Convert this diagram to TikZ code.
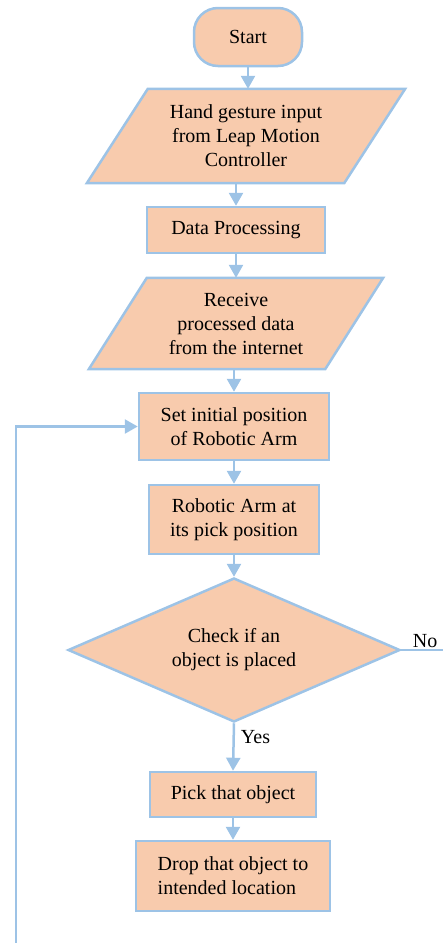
\documentclass[tikz,border=0pt]{standalone}
\usepackage{fontspec}
\setmainfont{Liberation Serif}
\usetikzlibrary{arrows.meta,shapes.geometric,backgrounds}
\definecolor{boxfill}{HTML}{F8CBAD}
\definecolor{edgeblue}{HTML}{9DC3E6}
\begin{document}
\begin{tikzpicture}[
  x=1pt, y=-1pt,
  font=\rmfamily\fontsize{20pt}{24pt}\selectfont,
  box/.style={rectangle, draw=edgeblue, fill=boxfill, line width=2.5pt,
              align=center, inner sep=0pt},
  term/.style={box, rounded corners=24pt},
  decision/.style={diamond, aspect=2.3, draw=edgeblue, fill=boxfill,
                   line width=2.5pt, align=center, inner sep=0pt},
  iobox/.style={rectangle, align=center, inner sep=0pt},
  ioframe/.style={draw=edgeblue, fill=boxfill, line width=2.5pt},
  flow/.style={draw=edgeblue, line width=2.5pt,
               -{Triangle[width=14pt,length=13pt]}},
  tag/.style={inner sep=3pt}
]
\useasboundingbox (0,0) rectangle (443,943);

% process blocks
\node[term, minimum width=108pt, minimum height=58pt] (start) at (248,37) {Start};
\node[iobox, minimum width=318pt, minimum height=94pt] (in1) at (246,136)
  {Hand gesture input\\from Leap Motion\\Controller};
\node[box, minimum width=178pt, minimum height=46pt] (dp) at (236,230) {Data Processing};
\node[iobox, minimum width=294pt, minimum height=91pt] (in2) at (236,323.5)
  {Receive\\processed data\\from the internet};
\node[box, minimum width=190pt, minimum height=67pt] (init) at (234,426.5)
  {Set initial position\\of Robotic Arm};
\node[box, minimum width=170pt, minimum height=69pt] (arm) at (234,519.5)
  {Robotic Arm at\\its pick position};
\node[decision, minimum width=332pt, minimum height=144pt] (check) at (234,650)
  {Check if an\\object is placed};
\node[box, minimum width=166pt, minimum height=45pt] (pick) at (233,794.5) {Pick that object};
\node[box, align=left, minimum width=194pt, minimum height=70pt] (drop) at (233,876)
  {Drop that object to\\intended location};

% parallelogram outlines for the input/output blocks
\begin{scope}[on background layer]
  \draw[ioframe] ([xshift=61pt]in1.north west) -- (in1.north east)
    -- ([xshift=-61pt]in1.south east) -- (in1.south west) -- cycle;
  \draw[ioframe] ([xshift=58pt]in2.north west) -- (in2.north east)
    -- ([xshift=-58pt]in2.south east) -- (in2.south west) -- cycle;
\end{scope}

% free ends of the open connectors
\coordinate (noend) at (443,650);
\coordinate (loopend) at (16,943);

% connectors
\draw[flow] (start.south) -- (start.south |- in1.north);
\draw[flow] (dp.north |- in1.south) -- (dp.north);
\draw[flow] (dp.south) -- (dp.south |- in2.north);
\draw[flow] (init.north |- in2.south) -- (init.north);
\draw[flow] (init.south) -- (arm.north);
\draw[flow] (arm.south) -- (check.north);
\draw[flow] (check.south) -- (pick.north)
  node[pos=0.3, right, tag, inner sep=6pt] {Yes};
\draw[flow] (pick.south) -- (drop.north);
\draw[draw=edgeblue, line width=2.5pt] (check.east) -- (noend)
  node[midway, above, tag, inner sep=1pt, xshift=3pt] {No};
\draw[flow] (loopend) |- (init.west);
\end{tikzpicture}
\end{document}
